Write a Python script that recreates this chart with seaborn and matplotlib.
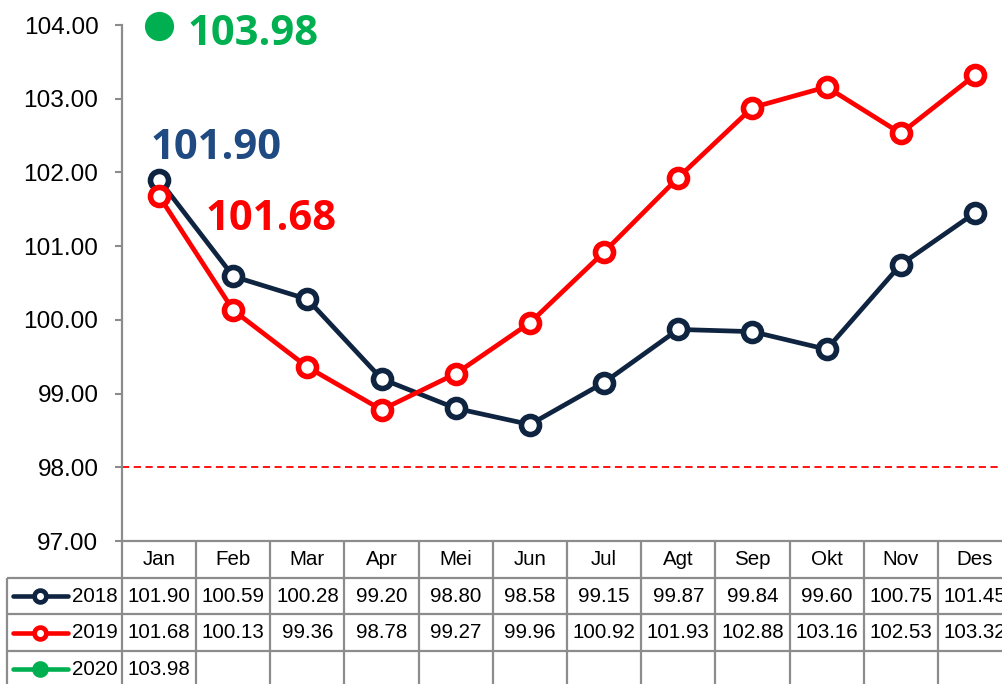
import numpy as np
import pandas as pd
import matplotlib
matplotlib.use("Agg")
import matplotlib.pyplot as plt
import matplotlib.transforms as mtransforms
import matplotlib.font_manager as fm
import seaborn as sns

months = ["Jan", "Feb", "Mar", "Apr", "Mei", "Jun", "Jul", "Agt", "Sep", "Okt", "Nov", "Des"]
v2018 = [101.90, 100.59, 100.28, 99.20, 98.80, 98.58, 99.15, 99.87, 99.84, 99.60, 100.75, 101.45]
v2019 = [101.68, 100.13, 99.36, 98.78, 99.27, 99.96, 100.92, 101.93, 102.88, 103.16, 102.53, 103.32]
v2020 = [103.98]
years = ["2018", "2019", "2020"]
yticks = [97, 98, 99, 100, 101, 102, 103, 104]
ref_line = 98.0

C18 = "#0F2440"
C19 = "#FF0000"
C20 = "#00B050"
GRID = "#8C8C8C"

sns.set_theme(style="white")
names = {f.name for f in fm.fontManager.ttflist}
if "Liberation Sans Narrow" in names:
    NARROW = ["Liberation Sans Narrow", "DejaVu Sans"]
    sc = 1.0
else:
    NARROW = ["Liberation Sans", "DejaVu Sans"]
    sc = 0.88
plt.rcParams["font.family"] = NARROW

fig = plt.figure(figsize=(10.03, 6.84), dpi=100)
L, R = 122 / 1003, 1012 / 1003
B, T = 1 - 541 / 684, 1 - 25 / 684
ax = fig.add_axes([L, B, R - L, T - B])

idx = np.arange(len(months))
df = pd.DataFrame({"m": idx, "y2018": v2018, "y2019": v2019})

line_kw = dict(linewidth=3.4, marker="o", markersize=13, markerfacecolor="white",
               markeredgewidth=4.0)
sns.lineplot(data=df, x="m", y="y2018", ax=ax, color=C18, markeredgecolor=C18, zorder=3, **line_kw)
sns.lineplot(data=df, x="m", y="y2019", ax=ax, color=C19, markeredgecolor=C19, zorder=4, **line_kw)
df20 = pd.DataFrame({"m": idx[:len(v2020)], "y": v2020})
sns.lineplot(data=df20, x="m", y="y", ax=ax, color=C20, marker="o", markersize=21,
             markeredgewidth=0, zorder=5, clip_on=False)

ax.axhline(ref_line, color=C19, lw=1.3, ls=(0, (4, 2.5)), zorder=2)

ax.set_xlim(-0.5, len(months) - 0.5)
ax.set_ylim(yticks[0], yticks[-1])
ax.set_yticks(yticks)
ax.set_yticklabels([f"{t:.2f}" for t in yticks], fontsize=20 * sc)
ax.set_xticks([])
ax.set_xlabel("")
ax.set_ylabel("")
ax.tick_params(axis="y", which="both", left=True, length=5, width=1.5, color=GRID, pad=12,
               direction="out", labelcolor="#000000")
for s in ["top", "right"]:
    ax.spines[s].set_visible(False)
for s in ["left", "bottom"]:
    ax.spines[s].set_color(GRID)
    ax.spines[s].set_linewidth(1.6)

# Data labels
bold = dict(family=["Open Sans", "DejaVu Sans"], fontweight="bold", fontsize=30)
ax.text(0.39, 103.73, f"{v2020[0]:.2f}", color=C20, ha="left", va="baseline", **bold)
ax.text(-0.12, 102.18, f"{v2018[0]:.2f}", color="#1F4A82", ha="left", va="baseline", **bold)
ax.text(0.62, 101.22, f"{v2019[0]:.2f}", color=C19, ha="left", va="baseline", **bold)

# Data table below axes
tr = mtransforms.blended_transform_factory(ax.transData, ax.transAxes)
h = 36.7 / 516
x0 = -2.05
xr = len(months) - 0.5
lkw = dict(transform=tr, clip_on=False, color=GRID, lw=1.6, solid_capstyle="butt")
for k in range(1, 4):
    ax.plot([x0, xr + 0.2], [-k * h, -k * h], **lkw)
for i in range(len(months) + 1):
    ax.plot([i - 0.5, i - 0.5], [0, -4.2 * h], **lkw)
ax.plot([x0, x0], [-h, -4.2 * h], **lkw)

tsize = 16.8 * sc
for i, m in enumerate(months):
    ax.text(i, -0.5 * h, m, transform=tr, ha="center", va="center", fontsize=tsize, color="#000000")
rows = [(years[0], v2018, C18, True), (years[1], v2019, C19, True), (years[2], v2020, C20, False)]
for r, (yr, vals, col, hollow) in enumerate(rows):
    yc = -(r + 1.5) * h
    for i, v in enumerate(vals):
        ax.text(i, yc, f"{v:.2f}", transform=tr, ha="center", va="center", fontsize=tsize, color="#000000")
    ax.plot([-1.969, -1.227], [yc, yc], transform=tr, clip_on=False, color=col, lw=3.3,
            solid_capstyle="round")
    if hollow:
        ax.plot([-1.605], [yc], transform=tr, clip_on=False, marker="o", markersize=8.5,
                markerfacecolor="white", markeredgecolor=col, markeredgewidth=3.4, lw=0)
    else:
        ax.plot([-1.605], [yc], transform=tr, clip_on=False, marker="o", markersize=12,
                markerfacecolor=col, markeredgewidth=0, lw=0)
    ax.text(-0.56, yc, yr, transform=tr, ha="right", va="center", fontsize=tsize, color="#000000")

fig.savefig("out.png", dpi=100)
